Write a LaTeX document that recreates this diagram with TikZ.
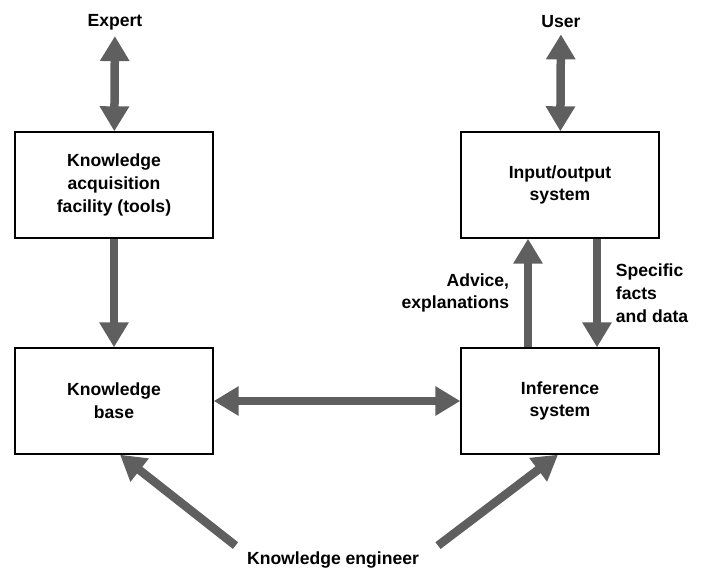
\documentclass[tikz,border=0pt]{standalone}
\usepackage{fontspec}
\setmainfont{Liberation Sans}
\usepackage{xcolor}
\definecolor{shaft}{RGB}{95, 95, 95}
\usepackage{tikz}
\usetikzlibrary{positioning, arrows.meta}

\begin{document}
\begin{tikzpicture}[
  font=\fontsize{10}{13}\selectfont\bfseries,
  box/.style={rectangle, draw=black, thick, align=center, minimum width=3.96cm, minimum height=2.12cm},
  lbl/.style={align=center},
  arr/.style={-{Triangle[width=0.56cm, length=0.5cm]}, line width=0.17cm, draw=shaft},
  dbl/.style={arr, {Triangle[width=0.56cm, length=0.5cm]}-{Triangle[width=0.56cm, length=0.5cm]}}
]
  \useasboundingbox (0,0) rectangle (14.12,-11.46);

  \node[lbl] (expert) at (2.30,-0.44) {Expert};
  \node[lbl] (user) at (11.22,-0.44) {User};
  \node[box] (acq) at (2.28,-3.70) {Knowledge\\acquisition\\facility (tools)};
  \node[box] (kb) at (2.28,-8.02) {Knowledge\\base};
  \node[box] (io) at (11.20,-3.70) {Input/output\\system};
  \node[box] (inf) at (11.20,-8.02) {Inference\\system};
  \node[lbl] (eng) at (6.66,-11.20) {Knowledge engineer};

  \draw[dbl] (expert) -- (acq);
  \draw[dbl] (user) -- (io);
  \draw[arr] (acq) -- (kb);
  \draw[dbl] (kb) -- (inf);
  \draw[arr] ([xshift=-0.64cm]inf.north) -- node[left=5pt, align=right]{Advice,\\explanations} ([xshift=-0.64cm]io.south);
  \draw[arr] ([xshift=0.74cm]io.south) -- node[right=5pt, align=left]{Specific\\facts\\and data} ([xshift=0.74cm]inf.north);
  \draw[arr] ([xshift=-1.95cm]eng.north) -- ([xshift=0.12cm]kb.south);
  \draw[arr] ([xshift=2.10cm]eng.north) -- ([xshift=-0.04cm]inf.south);
\end{tikzpicture}
\end{document}
